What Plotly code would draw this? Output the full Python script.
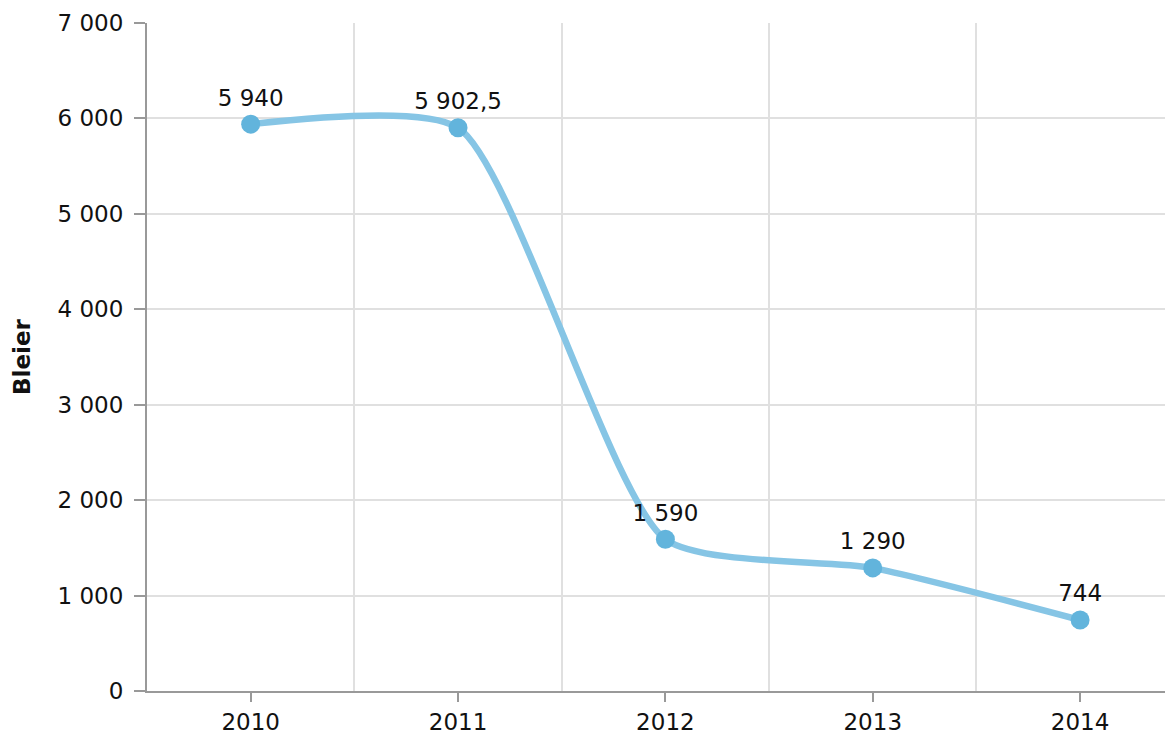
import plotly.graph_objects as go

years = ["2010", "2011", "2012", "2013", "2014"]
values = [5940, 5902.5, 1590, 1290, 744]
y_ticks = [0, 1000, 2000, 3000, 4000, 5000, 6000, 7000]

xpos = list(range(len(years)))
FONT = "DejaVu Sans, Verdana, sans-serif"
FS = 23

fig = go.Figure()
fig.add_trace(go.Scatter(
    x=xpos, y=values,
    mode="lines+markers+text",
    line=dict(color="#86C5E5", width=6.5, shape="spline", smoothing=0.6),
    marker=dict(color="#62B4DC", size=19),
    texttemplate="%{y:,}",
    textposition="top center",
    textfont=dict(size=FS, color="#111111", family=FONT),
    cliponaxis=False,
    showlegend=False,
))

fig.update_layout(
    width=1165, height=734,
    margin=dict(l=139, r=0, t=15, b=51),
    paper_bgcolor="white", plot_bgcolor="white",
    separators=", ",
    font=dict(family=FONT, size=FS, color="#111111"),
    xaxis=dict(
        range=[-0.5, 4.448],
        automargin=False,
        tickmode="array", tickvals=xpos, ticktext=years,
        ticks="outside", ticklen=9, tickcolor="#999999", tickwidth=1.5,
        showgrid=False, zeroline=False,
        showline=True, linecolor="#999999", linewidth=2,
        minor=dict(tick0=0.5, dtick=1, showgrid=True, gridcolor="#e0e0e0", gridwidth=1.5, ticks=""),
        tickfont=dict(size=FS),
    ),
    yaxis=dict(
        range=[0, 7000],
        automargin=False,
        tickmode="array", tickvals=y_ticks,
        tickformat=",d",
        ticks="outside", ticklen=11, tickcolor="#999999", tickwidth=1.5,
        showgrid=True, gridcolor="#e0e0e0", gridwidth=1.5,
        zeroline=False,
        showline=True, linecolor="#999999", linewidth=2,
        ticklabelstandoff=6,
        title=dict(text="<b>Bleier</b>", font=dict(size=FS), standoff=20),
        tickfont=dict(size=FS),
    ),
)

fig.write_html("out.html")
